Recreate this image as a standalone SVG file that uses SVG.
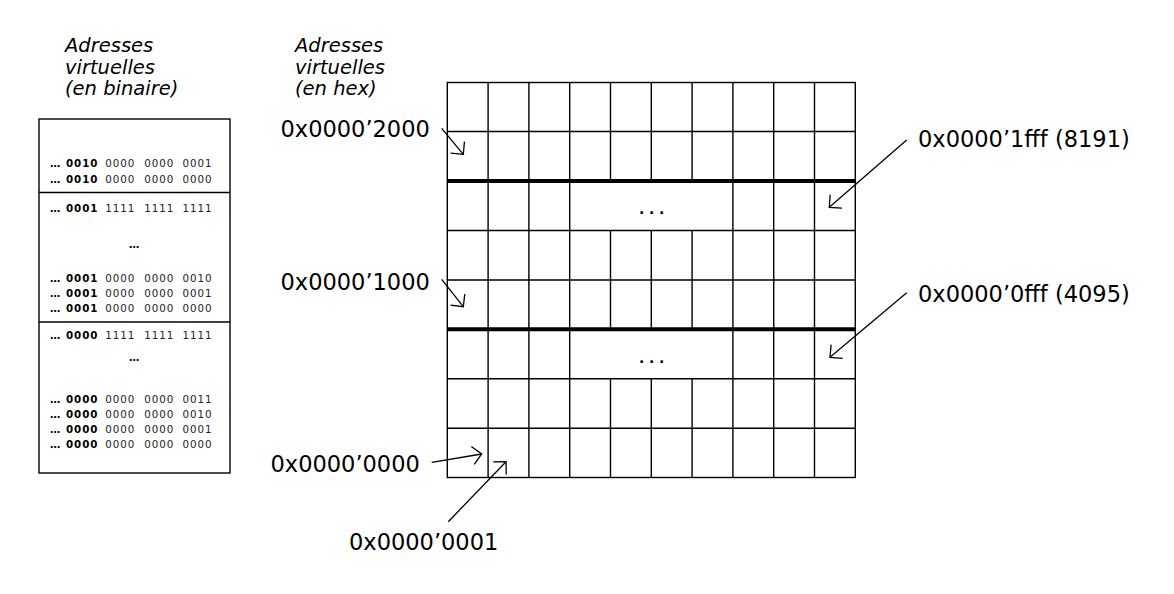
<svg xmlns="http://www.w3.org/2000/svg" width="1174" height="594" viewBox="0 0 1174 594">
<style>
.title{font-family:"DejaVu Sans","Liberation Sans",sans-serif;font-style:italic;font-size:19.5px;fill:#000}
.bin{font-family:"DejaVu Sans","Liberation Sans",sans-serif;font-size:10.3px;letter-spacing:0.9px;fill:#222}
.b{font-weight:bold;fill:#000}
.hex{font-family:"DejaVu Sans","Liberation Sans",sans-serif;font-size:22.5px;fill:#000}
.dots{font-family:"DejaVu Sans","Liberation Sans",sans-serif;font-size:14px;font-weight:bold;letter-spacing:4.7px;fill:#000}
.thin{stroke:#000;stroke-width:1.4;fill:none}
.thick{stroke:#000;stroke-width:4;fill:none}
.arrow{stroke:#000;stroke-width:1.3;fill:none;marker-end:url(#open)}
</style>
<defs>
<marker id="open" markerUnits="userSpaceOnUse" markerWidth="24" markerHeight="24" viewBox="-12 -12 24 24" refX="0" refY="0" orient="auto" overflow="visible">
<path d="M-9,-9 L0,0 L-9,9" fill="none" stroke="#000" stroke-width="1.3"/>
</marker>
</defs>
<rect width="1174" height="594" fill="#fff"/>

<g id="title-binary">
<text class="title" x="65" y="52">Adresses</text>
<text class="title" x="65" y="74">virtuelles</text>
<text class="title" x="65" y="95">(en binaire)</text>
</g>
<g id="title-hex">
<text class="title" x="295" y="52">Adresses</text>
<text class="title" x="295" y="74">virtuelles</text>
<text class="title" x="295" y="95">(en hex)</text>
</g>

<g id="binary-table">
<rect x="39" y="119" width="191" height="354" class="thin"/>
<line x1="39" y1="192.5" x2="230" y2="192.5" class="thin"/>
<line x1="39" y1="322" x2="230" y2="322" class="thin"/>
<text class="bin" y="166.5"><tspan class="b" x="50">…</tspan><tspan class="b" x="66">0010</tspan><tspan x="105.3">0000</tspan><tspan x="144.3">0000</tspan><tspan x="182.6">0001</tspan></text>
<text class="bin" y="182.5"><tspan class="b" x="50">…</tspan><tspan class="b" x="66">0010</tspan><tspan x="105.3">0000</tspan><tspan x="144.3">0000</tspan><tspan x="182.6">0000</tspan></text>
<text class="bin" y="211.7"><tspan class="b" x="50">…</tspan><tspan class="b" x="66">0001</tspan><tspan x="105.3">1111</tspan><tspan x="144.3">1111</tspan><tspan x="182.6">1111</tspan></text>
<text class="bin b" x="129" y="248">…</text>
<text class="bin" y="281.7"><tspan class="b" x="50">…</tspan><tspan class="b" x="66">0001</tspan><tspan x="105.3">0000</tspan><tspan x="144.3">0000</tspan><tspan x="182.6">0010</tspan></text>
<text class="bin" y="296.7"><tspan class="b" x="50">…</tspan><tspan class="b" x="66">0001</tspan><tspan x="105.3">0000</tspan><tspan x="144.3">0000</tspan><tspan x="182.6">0001</tspan></text>
<text class="bin" y="311.7"><tspan class="b" x="50">…</tspan><tspan class="b" x="66">0001</tspan><tspan x="105.3">0000</tspan><tspan x="144.3">0000</tspan><tspan x="182.6">0000</tspan></text>
<text class="bin" y="339.3"><tspan class="b" x="50">…</tspan><tspan class="b" x="66">0000</tspan><tspan x="105.3">1111</tspan><tspan x="144.3">1111</tspan><tspan x="182.6">1111</tspan></text>
<text class="bin b" x="129" y="361">…</text>
<text class="bin" y="402.7"><tspan class="b" x="50">…</tspan><tspan class="b" x="66">0000</tspan><tspan x="105.3">0000</tspan><tspan x="144.3">0000</tspan><tspan x="182.6">0011</tspan></text>
<text class="bin" y="417.7"><tspan class="b" x="50">…</tspan><tspan class="b" x="66">0000</tspan><tspan x="105.3">0000</tspan><tspan x="144.3">0000</tspan><tspan x="182.6">0010</tspan></text>
<text class="bin" y="432.7"><tspan class="b" x="50">…</tspan><tspan class="b" x="66">0000</tspan><tspan x="105.3">0000</tspan><tspan x="144.3">0000</tspan><tspan x="182.6">0001</tspan></text>
<text class="bin" y="447.7"><tspan class="b" x="50">…</tspan><tspan class="b" x="66">0000</tspan><tspan x="105.3">0000</tspan><tspan x="144.3">0000</tspan><tspan x="182.6">0000</tspan></text>
</g>

<g id="memory-grid">
<rect x="447.3" y="82.5" width="408" height="395" class="thin"/>
<path class="thin" d="M447.3,131.5H855.3 M447.3,230.5H855.3 M447.3,280H855.3 M447.3,378.7H855.3 M447.3,428.2H855.3"/>
<path class="thin" d="M488.1,82.5V477.5 M528.9,82.5V477.5 M569.7,82.5V477.5 M732.9,82.5V477.5 M773.7,82.5V477.5 M814.5,82.5V477.5
M610.5,82.5V181 M610.5,230.5V329.3 M610.5,378.7V477.5
M651.3,82.5V181 M651.3,230.5V329.3 M651.3,378.7V477.5
M692.1,82.5V181 M692.1,230.5V329.3 M692.1,378.7V477.5"/>
<path class="thick" d="M447.3,181H855.3 M447.3,329.3H855.3"/>
<text class="dots" x="639" y="214">...</text>
<text class="dots" x="639" y="362.5">...</text>
</g>

<g id="label-2000"><text class="hex" x="280.5" y="137">0x0000’2000</text></g>
<g id="label-1000"><text class="hex" x="280.5" y="290">0x0000’1000</text></g>
<g id="label-0000"><text class="hex" x="270.5" y="472">0x0000’0000</text></g>
<g id="label-0001"><text class="hex" x="349" y="550">0x0000’0001</text></g>
<g id="label-1fff"><text class="hex" x="918" y="147">0x0000’1fff (8191)</text></g>
<g id="label-0fff"><text class="hex" x="918" y="301.5">0x0000’0fff (4095)</text></g>

<g id="connectors">
<line class="arrow" x1="441.7" y1="128.3" x2="463.3" y2="154.3"/>
<line class="arrow" x1="441.7" y1="279.3" x2="463.3" y2="306.7"/>
<line class="arrow" x1="906.7" y1="140" x2="829.3" y2="207.3"/>
<line class="arrow" x1="906.7" y1="292.7" x2="830" y2="357.3"/>
<line class="arrow" x1="431.7" y1="462.3" x2="481.7" y2="454"/>
<line class="arrow" x1="448.3" y1="521.7" x2="506" y2="461.7"/>
</g>
</svg>
